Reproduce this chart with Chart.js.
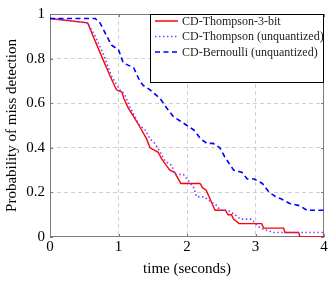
<!DOCTYPE html>
<html>
<head>
<meta charset="utf-8">
<script src="https://cdn.jsdelivr.net/npm/chart.js@4/dist/chart.umd.min.js"></script>
<style>
  body { margin: 0; background: #fff; }
  #box { width: 333px; height: 282px; }
</style>
</head>
<body>
<div id="box"><canvas id="grafico" width="333" height="282"></canvas></div>
<script>
// Nomes das séries (legenda)
var seriesNames = ["CD-Thompson-3-bit", "CD-Thompson (unquantized)", "CD-Bernoulli (unquantized)"];

// CD-Thompson-3-bit: tempo (s) e probabilidade
var redT = [0, 0.55, 0.63, 0.74, 0.88, 0.97, 1.05, 1.08, 1.14, 1.22, 1.30, 1.41, 1.46, 1.58, 1.63,
            1.70, 1.75, 1.82, 1.91, 2.19, 2.23, 2.28, 2.41, 2.56, 2.60, 2.65, 2.68, 2.76, 3.09, 3.12,
            3.41, 3.43, 3.63, 3.65, 4.0];
var redP = [0.98, 0.96, 0.90, 0.82, 0.72, 0.66, 0.65, 0.62, 0.58, 0.54, 0.50, 0.44, 0.40, 0.38, 0.35,
            0.32, 0.30, 0.29, 0.24, 0.24, 0.22, 0.21, 0.12, 0.12, 0.10, 0.10, 0.08, 0.06, 0.06, 0.04,
            0.04, 0.02, 0.02, 0, 0];

// CD-Thompson (unquantized)
var purT = [0, 0.55, 0.66, 0.78, 0.90, 1.02, 1.09, 1.17, 1.31, 1.39, 1.46, 1.53, 1.61, 1.68, 1.78,
            1.82, 1.95, 2.00, 2.10, 2.14, 2.25, 2.34, 2.44, 2.48, 2.60, 2.70, 2.78, 2.94, 3.00, 3.07,
            3.26, 4.0];
var purP = [0.98, 0.96, 0.90, 0.82, 0.72, 0.66, 0.64, 0.58, 0.50, 0.48, 0.44, 0.42, 0.38, 0.34, 0.32,
            0.28, 0.28, 0.26, 0.22, 0.18, 0.18, 0.16, 0.14, 0.12, 0.12, 0.10, 0.08, 0.08, 0.06, 0.04,
            0.02, 0.02];

// CD-Bernoulli (unquantized)
var bluT = [0, 0.66, 0.73, 0.83, 0.90, 1.00, 1.07, 1.22, 1.31, 1.36, 1.46, 1.61, 1.70, 1.80, 1.90,
            2.00, 2.10, 2.20, 2.29, 2.38, 2.48, 2.55, 2.68, 2.80, 2.88, 2.98, 3.10, 3.20, 3.30, 3.38,
            3.50, 3.65, 3.75, 4.0];
var bluP = [0.98, 0.98, 0.96, 0.90, 0.86, 0.84, 0.78, 0.76, 0.70, 0.68, 0.66, 0.62, 0.58, 0.54, 0.52,
            0.50, 0.48, 0.44, 0.42, 0.42, 0.40, 0.36, 0.30, 0.29, 0.26, 0.26, 0.24, 0.20, 0.18, 0.17,
            0.15, 0.14, 0.12, 0.12];

// Ticks dos eixos
var xTicks = [0, 1, 2, 3, 4];
var yTicks = [0, 0.2, 0.4, 0.6, 0.8, 1];

function pares(t, p) {
    return t.map(function(v, i) { return { x: v, y: p[i] }; });
}

var cores = ['#ff0000', '#8040ff', '#0000ff'];
var tracos = [[], [1.5, 2.5], [5, 3.5]];
var serif = "'Liberation Serif', 'Times New Roman', serif";

// Moldura cinza e pequenos ticks internos
var moldura = {
    id: 'moldura',
    beforeDatasetsDraw: function(chart) {
        var a = chart.chartArea, c = chart.ctx;
        var sx = chart.scales.x, sy = chart.scales.y;
        c.save();
        c.strokeStyle = '#7a7a7a';
        c.lineWidth = 1;
        c.strokeRect(a.left + 0.5, a.top + 0.5, a.right - a.left - 1, a.bottom - a.top - 1);
        c.beginPath();
        xTicks.forEach(function(t) {
            var px = Math.round(sx.getPixelForValue(t)) + 0.5;
            c.moveTo(px, a.bottom); c.lineTo(px, a.bottom - 3);
            c.moveTo(px, a.top); c.lineTo(px, a.top + 3);
        });
        yTicks.forEach(function(t) {
            var py = Math.round(sy.getPixelForValue(t)) + 0.5;
            c.moveTo(a.left, py); c.lineTo(a.left + 3, py);
            c.moveTo(a.right, py); c.lineTo(a.right - 3, py);
        });
        c.stroke();
        c.restore();
    }
};

// Legenda desenhada à mão no canto superior direito
var legenda = {
    id: 'legenda',
    afterDraw: function(chart) {
        var a = chart.chartArea, c = chart.ctx;
        var x0 = 150.5, y0 = a.top + 0.5, x1 = a.right - 0.5, y1 = 82.5;
        c.save();
        c.fillStyle = '#fff';
        c.fillRect(x0, y0, x1 - x0, y1 - y0);
        c.strokeStyle = '#000';
        c.lineWidth = 1;
        c.strokeRect(x0, y0, x1 - x0, y1 - y0);
        c.font = '12px ' + serif;
        c.textBaseline = 'middle';
        seriesNames.forEach(function(nome, i) {
            var y = 21 + i * 15.5;
            c.strokeStyle = cores[i];
            c.lineWidth = 1.5;
            c.setLineDash(tracos[i]);
            c.beginPath();
            c.moveTo(155, y); c.lineTo(178, y);
            c.stroke();
            c.setLineDash([]);
            c.fillStyle = '#222';
            c.fillText(nome, 182, y + 0.5);
        });
        c.restore();
    }
};

var ctx = document.getElementById('grafico').getContext('2d');

var myChart = new Chart(ctx, {
    type: 'scatter',
    data: {
        datasets: [
            { label: seriesNames[0], data: pares(redT, redP), borderColor: cores[0], borderWidth: 1.4,
              borderDash: tracos[0], showLine: true, pointRadius: 0, order: 3 },
            { label: seriesNames[1], data: pares(purT, purP), borderColor: cores[1], borderWidth: 1.6,
              borderDash: tracos[1], showLine: true, pointRadius: 0, order: 2 },
            { label: seriesNames[2], data: pares(bluT, bluP), borderColor: cores[2], borderWidth: 1.6,
              borderDash: tracos[2], showLine: true, pointRadius: 0, order: 1 }
        ]
    },
    options: {
        responsive: false,
        animation: false,
        layout: { padding: { top: 9, right: 9, left: 0, bottom: 0 } },
        plugins: { legend: { display: false }, tooltip: { enabled: false } },
        scales: {
            x: {
                type: 'linear', min: 0, max: 4,
                afterFit: function(s) { s.height = 45; },
                afterBuildTicks: function(s) { s.ticks = xTicks.map(function(v) { return { value: v }; }); },
                ticks: { color: '#000', font: { family: serif, size: 15 }, padding: 1, maxRotation: 0 },
                grid: {
                    drawTicks: false,
                    color: function(c) { return (c.tick && (c.tick.value === 0 || c.tick.value === 4)) ? 'rgba(0,0,0,0)' : '#cfcfcf'; }
                },
                border: { display: false, dash: [4, 3] },
                title: { display: true, text: 'time (seconds)', color: '#000', font: { family: serif, size: 15 }, padding: { top: 0, bottom: 4 } }
            },
            y: {
                type: 'linear', min: 0, max: 1,
                afterFit: function(s) { s.width = 50; },
                afterBuildTicks: function(s) { s.ticks = yTicks.map(function(v) { return { value: v }; }); },
                ticks: {
                    color: '#000', font: { family: serif, size: 15 }, padding: 5,
                    callback: function(v) { return String(+Number(v).toFixed(1)); }
                },
                grid: {
                    drawTicks: false,
                    color: function(c) { return (c.tick && (c.tick.value === 0 || c.tick.value === 1)) ? 'rgba(0,0,0,0)' : '#cfcfcf'; }
                },
                border: { display: false, dash: [4, 3] },
                title: { display: true, text: 'Probability of miss detection', color: '#000', font: { family: serif, size: 15 }, padding: { top: 3, bottom: 0 } }
            }
        }
    },
    plugins: [moldura, legenda]
});
</script>
</body>
</html>
